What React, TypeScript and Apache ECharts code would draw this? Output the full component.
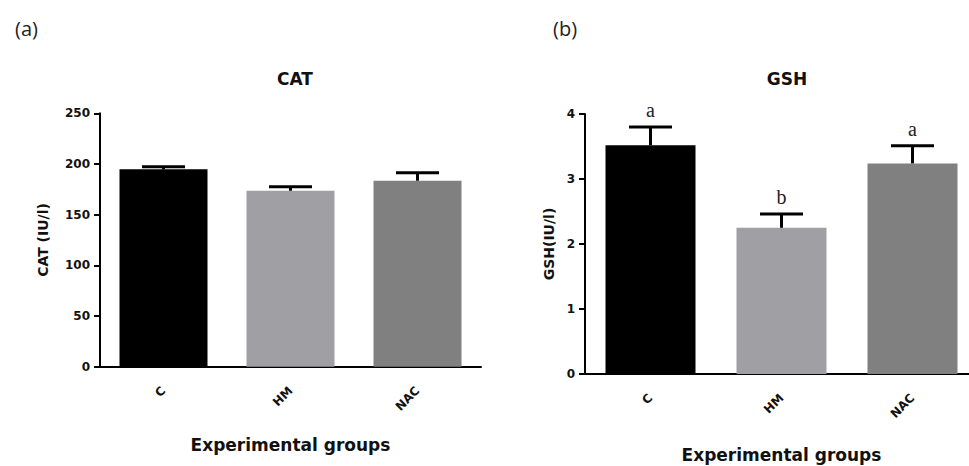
import React, { useEffect, useRef } from "react";
import * as echarts from "echarts";

const groups = ["C", "HM", "NAC"];
const catMean = [194.7, 173.6, 183.5];
const catSem = [2.6, 4.0, 7.9];
const gshMean = [3.52, 2.25, 3.24];
const gshSem = [0.28, 0.21, 0.27];
const gshLetters = ["a", "b", "a"];
const catTicks = [0, 50, 100, 150, 200, 250];
const gshTicks = [0, 1, 2, 3, 4];
const barColors = ["#000000", "#a0a0a4", "#808080"];

const SANS = "DejaVu Sans";

function errData(mean: number[], sem: number[], letters?: string[]) {
  return mean.map((m, i) => [i, m, m + sem[i], letters ? letters[i] : ""]);
}

function makeErr(xi: number, data: any[]) {
  return {
    type: "custom",
    xAxisIndex: xi,
    yAxisIndex: xi,
    z: 5,
    data,
    renderItem: (params: any, api: any) => {
      const x = api.value(0);
      const mean = api.value(1);
      const up = api.value(2);
      const letter = data[params.dataIndex][3];
      const p0 = api.coord([x, mean]);
      const p1 = api.coord([x, up]);
      const half = 21.5;
      const children: any[] = [
        {
          type: "line",
          shape: { x1: p0[0], y1: p0[1], x2: p1[0], y2: p1[1] },
          style: { stroke: "#000", lineWidth: 3 },
        },
        {
          type: "line",
          shape: { x1: p1[0] - half, y1: p1[1], x2: p1[0] + half, y2: p1[1] },
          style: { stroke: "#000", lineWidth: 3 },
        },
      ];
      if (letter) {
        children.push({
          type: "text",
          x: p1[0],
          y: p1[1] - 7,
          style: {
            text: letter,
            fill: "#222",
            font: "20px 'Liberation Serif', serif",
            align: "center",
            verticalAlign: "bottom",
          },
        });
      }
      return { type: "group", children };
    },
  };
}

export default function App() {
  const ref = useRef<HTMLDivElement>(null);
  useEffect(() => {
    if (!ref.current) return;
    const chart = echarts.init(ref.current, null, { renderer: "svg" });
    const tickLabel = {
      color: "#111",
      fontFamily: SANS,
      fontWeight: "bold" as const,
      fontSize: 12,
    };
    const xAxisBase = (gi: number) => ({
      type: "category",
      gridIndex: gi,
      data: groups,
      name: "Experimental groups",
      nameLocation: "middle",
      nameMoveOverlap: false,
      nameTextStyle: {
        color: "#111",
        fontFamily: SANS,
        fontWeight: "bold",
        fontSize: 17,
        verticalAlign: "middle",
      },
      axisLine: { lineStyle: { color: "#000", width: 2 } },
      axisTick: { alignWithLabel: true, length: 6, lineStyle: { color: "#000", width: 2 } },
      axisLabel: { ...tickLabel, fontSize: 12, rotate: 45, margin: 22 },
      splitLine: { show: false },
    });
    const yAxisBase = (gi: number) => ({
      type: "value",
      gridIndex: gi,
      nameLocation: "middle",
      nameRotate: 90,
      nameMoveOverlap: false,
      nameTextStyle: {
        color: "#111",
        fontFamily: SANS,
        fontWeight: "bold",
        fontSize: 14,
        verticalAlign: "middle",
      },
      axisLine: { show: true, lineStyle: { color: "#000", width: 2 } },
      axisTick: { show: true, length: 6, lineStyle: { color: "#000", width: 2 } },
      axisLabel: { ...tickLabel, margin: 10 },
      splitLine: { show: false },
    });
    chart.setOption({
      animation: false,
      backgroundColor: "#fff",
      title: [
        {
          text: "CAT",
          left: 290,
          top: 65,
          textAlign: "center",
          textStyle: { fontFamily: SANS, fontWeight: "bold", fontSize: 17, color: "#111" },
        },
        {
          text: "GSH",
          left: 782,
          top: 65,
          textAlign: "center",
          textStyle: { fontFamily: SANS, fontWeight: "bold", fontSize: 17, color: "#111" },
        },
        {
          text: "(a)",
          left: 10,
          top: 13,
          textStyle: { fontFamily: "Open Sans", fontWeight: "normal", fontSize: 20, color: "#222" },
        },
        {
          text: "(b)",
          left: 548,
          top: 13,
          textStyle: { fontFamily: "Open Sans", fontWeight: "normal", fontSize: 20, color: "#222" },
        },
      ],
      grid: [
        { left: 100, top: 113.3, width: 381, height: 253.4, outerBoundsMode: "none", containLabel: false },
        { left: 585, top: 114, width: 393, height: 260, outerBoundsMode: "none", containLabel: false },
      ],
      xAxis: [
        { ...xAxisBase(0), nameGap: 78 },
        { ...xAxisBase(1), nameGap: 81 },
      ],
      yAxis: [
        {
          ...yAxisBase(0),
          name: "CAT (IU/l)",
          nameGap: 57,
          min: catTicks[0],
          max: catTicks[catTicks.length - 1],
          interval: catTicks[1] - catTicks[0],
        },
        {
          ...yAxisBase(1),
          name: "GSH(IU/l)",
          nameGap: 36,
          min: gshTicks[0],
          max: gshTicks[gshTicks.length - 1],
          interval: gshTicks[1] - gshTicks[0],
        },
      ],
      series: [
        {
          type: "bar",
          xAxisIndex: 0,
          yAxisIndex: 0,
          barWidth: 88,
          data: catMean.map((v, i) => ({ value: v, itemStyle: { color: barColors[i] } })),
        },
        {
          type: "bar",
          xAxisIndex: 1,
          yAxisIndex: 1,
          barWidth: 90,
          data: gshMean.map((v, i) => ({ value: v, itemStyle: { color: barColors[i] } })),
        },
        makeErr(0, errData(catMean, catSem)),
        makeErr(1, errData(gshMean, gshSem, gshLetters)),
      ],
    });
    return () => chart.dispose();
  }, []);
  return (
    <div
      ref={ref}
      style={{ position: "absolute", left: 0, top: 0, width: 969, height: 466 }}
    />
  );
}
